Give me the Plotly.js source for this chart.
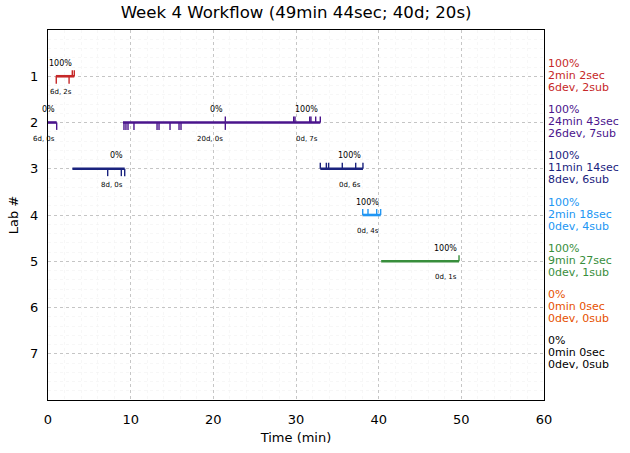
<!DOCTYPE html>
<html>
<head>
<meta charset="utf-8">
<script src="https://cdn.plot.ly/plotly-3.0.1.min.js"></script>
<style>html,body{margin:0;padding:0;background:#fff;}#chart{width:630px;height:453px;}</style>
</head>
<body>
<div id="chart"></div>
<script>
// ---- data ----
const labs = [1, 2, 3, 4, 5, 6, 7];
const labColors = ['#c62828', '#4a148c', '#1a237e', '#2196f3', '#388e3c', '#e65100', '#000000'];
const labPct = [100, 100, 100, 100, 100, 0, 0];
const labTime = ['2min 2sec', '24min 43sec', '11min 14sec', '2min 18sec', '9min 27sec', '0min 0sec', '0min 0sec'];
const labDev = [6, 26, 8, 0, 0, 0, 0];
const labSub = [2, 7, 6, 4, 1, 0, 0];

// work sessions
const sessLab = [1, 2, 2, 2, 3, 3, 4, 5];
const sessStart = [0.95, 0, 9.07, 21.45, 2.95, 32.94, 38.07, 40.3];
const sessEnd = [3.18, 1.05, 21.45, 32.94, 9.28, 38.1, 40.24, 49.72];
const sessPct = [100, 0, 0, 100, 0, 100, 100, 100];
const sessDev = [6, 6, 20, 0, 8, 0, 0, 0];
const sessSub = [2, 0, 0, 7, 0, 6, 4, 1];

// development events (down ticks)
const devLab = [1, 1, 2, 2, 2, 2, 2, 2, 2, 2, 2, 2, 2, 3, 3, 3];
const devTime = [1.0, 2.55, 1.05, 9.19, 9.43, 9.68, 10.40, 13.19, 13.43, 14.76, 15.85, 16.09, 21.45, 7.22, 8.87, 9.28];
// submission events (up ticks)
const subLab = [1, 1, 2, 2, 2, 2, 2, 2, 2, 3, 3, 3, 3, 3, 3, 4, 4, 4, 4, 5];
const subTime = [2.94, 3.18, 21.45, 29.72, 29.88, 31.66, 31.81, 32.38, 32.94, 32.94, 33.67, 33.95, 35.6, 37.22, 38.1, 38.07, 38.71, 39.76, 40.24, 49.72];

const title = 'Week 4 Workflow (49min 44sec; 40d; 20s)';

// ---- build ----
const FONT = 'DejaVu Sans, sans-serif';
const traces = [];
const annotations = [];
const DOWN = 0.16, UP = 0.13;

labs.forEach((lab, i) => {
  const col = labColors[i];
  const lx = [], ly = [];
  sessLab.forEach((l, k) => { if (l === lab) { lx.push(sessStart[k], sessEnd[k], null); ly.push(lab, lab, null); } });
  if (lx.length) traces.push({x: lx, y: ly, mode: 'lines', line: {color: col, width: 2.6}, hoverinfo: 'skip', showlegend: false});
  const dx = [], dy = [];
  devLab.forEach((l, k) => { if (l === lab) { dx.push(devTime[k], devTime[k], null); dy.push(lab, lab + DOWN, null); } });
  if (dx.length) traces.push({x: dx, y: dy, mode: 'lines', line: {color: col, width: 1.4}, hoverinfo: 'skip', showlegend: false});
  const ux = [], uy = [];
  subLab.forEach((l, k) => { if (l === lab) { ux.push(subTime[k], subTime[k], null); uy.push(lab, lab - UP, null); } });
  if (ux.length) traces.push({x: ux, y: uy, mode: 'lines', line: {color: col, width: 1.4}, hoverinfo: 'skip', showlegend: false});
  // right summary, one annotation per line
  const lines = [labPct[i] + '%', labTime[i], labDev[i] + 'dev, ' + labSub[i] + 'sub'];
  const shifts = [13, 1, -11];
  lines.forEach((t, j) => {
    annotations.push({
      xref: 'paper', yref: 'y', x: 1, y: lab, xanchor: 'left', yanchor: 'middle', xshift: 2, yshift: shifts[j],
      align: 'left', showarrow: false, text: t,
      font: {family: FONT, size: 11, color: col}
    });
  });
});

sessLab.forEach((lab, k) => {
  annotations.push({x: sessEnd[k], y: lab, xref: 'x', yref: 'y', xanchor: 'right', yanchor: 'middle', yshift: 13,
    showarrow: false, text: sessPct[k] + '%', font: {family: FONT, size: 8, color: '#000'}});
  annotations.push({x: sessEnd[k], y: lab, xref: 'x', yref: 'y', xanchor: 'right', yanchor: 'middle', yshift: -16,
    showarrow: false, text: sessDev[k] + 'd, ' + sessSub[k] + 's', font: {family: FONT, size: 7, color: '#000'}});
});

const layout = {
  width: 630, height: 453,
  margin: {l: 48, r: 86, t: 30, b: 53, pad: 0},
  paper_bgcolor: '#fff', plot_bgcolor: '#fff',
  font: {family: FONT, color: '#000'},
  title: {text: title, x: 0.47, xanchor: 'center', y: 0.985, yanchor: 'top', font: {family: FONT, size: 16.6, color: '#000'}},
  showlegend: false,
  xaxis: {
    range: [0, 60], dtick: 10, tick0: 0, showline: true, mirror: true, linecolor: '#000', linewidth: 1,
    showgrid: true, gridcolor: '#b8b8b8', griddash: 'dot', gridwidth: 0.8, zeroline: false,
    ticks: '', ticklabelstandoff: 7,
    tickfont: {family: FONT, size: 13, color: '#000'},
    minor: {dtick: 2, showgrid: true, gridcolor: '#f1f1f1', gridwidth: 0.6, ticks: ''},
    title: {text: 'Time (min)', font: {family: FONT, size: 13, color: '#000'}, standoff: 7}
  },
  yaxis: {
    range: [8, 0], tickvals: labs, ticktext: labs.map(String), showline: true, mirror: true, linecolor: '#000', linewidth: 1,
    showgrid: true, gridcolor: '#b8b8b8', griddash: 'dot', gridwidth: 0.8, zeroline: false,
    ticks: '', ticklabelstandoff: 6,
    tickfont: {family: FONT, size: 13, color: '#000'},
    minor: {dtick: 0.2, tick0: 0, showgrid: true, gridcolor: '#f1f1f1', gridwidth: 0.6, ticks: ''},
    title: {text: 'Lab #', font: {family: FONT, size: 13, color: '#000'}, standoff: 8}
  },
  annotations: annotations
};

Plotly.newPlot('chart', traces, layout, {staticPlot: true, displayModeBar: false});
</script>
</body>
</html>
